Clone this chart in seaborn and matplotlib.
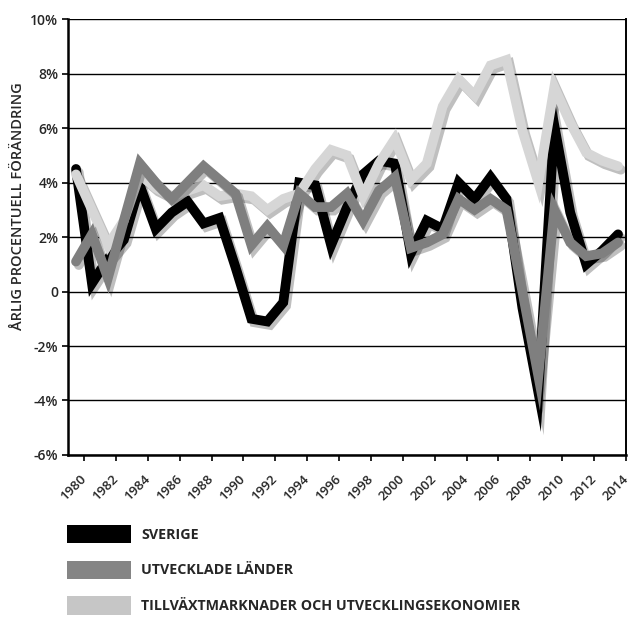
import matplotlib
matplotlib.use("Agg")
import matplotlib.pyplot as plt
import matplotlib.patheffects as pe
from matplotlib.patches import Patch
import pandas as pd
import seaborn as sns

years = list(range(1980, 2015))

sverige = [4.5, 0.3, 1.2, 1.9, 3.9, 2.3, 2.9, 3.3, 2.5, 2.7, 0.9, -1.0, -1.1, -0.4, 4.0,
           3.9, 1.7, 3.1, 4.3, 4.8, 4.7, 1.4, 2.6, 2.3, 4.0, 3.4, 4.2, 3.4, -0.6, -3.7,
           6.1, 2.9, 1.0, 1.5, 2.1]
utvecklade = [1.1, 2.1, 0.5, 2.6, 4.7, 4.0, 3.4, 4.0, 4.6, 4.1, 3.6, 1.7, 2.4, 1.7, 3.6,
              3.1, 3.1, 3.6, 2.6, 3.7, 4.2, 1.6, 1.8, 2.1, 3.4, 3.0, 3.4, 3.0, 0.0, -3.1,
              3.0, 1.8, 1.3, 1.4, 1.8]
tillvaxt = [4.3, 3.0, 1.7, 2.6, 4.3, 3.8, 3.5, 3.7, 3.9, 3.5, 3.6, 3.5, 3.0, 3.4, 3.6,
            4.5, 5.2, 5.0, 3.5, 4.7, 5.6, 4.1, 4.7, 6.8, 7.8, 7.2, 8.3, 8.5, 5.9, 4.0,
            7.5, 6.2, 5.1, 4.8, 4.6]

series_names = ["SVERIGE", "UTVECKLADE LÄNDER", "TILLVÄXTMARKNADER OCH UTVECKLINGSEKONOMIER"]
series_colors = ["#000000", "#7f7f7f", "#d6d6d6"]
legend_colors = ["#000000", "#858585", "#c6c6c6"]

yticks = [-6, -4, -2, 0, 2, 4, 6, 8, 10]
ytick_labels = ["-6%", "-4%", "-2%", "0", "2%", "4%", "6%", "8%", "10%"]
xtick_years = list(range(1980, 2015, 2))

df = pd.DataFrame({
    "year": years * 3,
    "value": sverige + utvecklade + tillvaxt,
    "serie": [series_names[0]] * len(years) + [series_names[1]] * len(years)
    + [series_names[2]] * len(years),
})

sns.set_style("white")
plt.rcParams["font.family"] = ["Open Sans", "DejaVu Sans"]

fig = plt.figure(figsize=(6.3, 6.17), dpi=100)
ax = fig.add_axes([0.108, 0.2626, 0.8857, 0.7064])

for y in yticks:
    ax.axhline(y, color="black", lw=1.0, zorder=0)

# draw order: black, light, gray on top
draw_order = [0, 2, 1]
for i in draw_order:
    sub = df[df["serie"] == series_names[i]]
    sns.lineplot(data=sub, x="year", y="value", ax=ax, color=series_colors[i],
                 lw=7.0, legend=False, zorder=2 + draw_order.index(i),
                 solid_joinstyle="miter")
for line in ax.lines[len(yticks):]:
    line.set_path_effects([
        pe.SimpleLineShadow(offset=(2.0, -2.5), shadow_color="black", alpha=0.25),
        pe.Normal(),
    ])

ax.set_xlim(1979.5, 2014.5)
ax.set_ylim(-6, 10)
ax.set_yticks(yticks)
ax.set_yticklabels(ytick_labels, fontsize=10, fontweight="semibold")
ax.set_xticks([y + 0.5 for y in xtick_years])
ax.set_xticklabels([str(y) for y in xtick_years], rotation=45, ha="right", va="center",
                   rotation_mode="anchor", fontsize=9.5, fontweight="semibold")
ax.tick_params(axis="both", direction="out", length=4, width=1.2, color="black",
               left=True, bottom=True)
ax.tick_params(axis="x", pad=12)
ax.tick_params(axis="y", pad=3)
ax.set_xlabel("")
ax.set_ylabel("ÅRLIG PROCENTUELL FÖRÄNDRING", fontsize=10.5, fontweight="semibold")
ax.yaxis.set_label_coords(-0.077, 0.57)

ax.spines["top"].set_visible(False)
for side in ["left", "bottom"]:
    ax.spines[side].set_linewidth(1.8)
    ax.spines[side].set_color("black")
ax.spines["right"].set_linewidth(1.4)
ax.spines["right"].set_color("black")

handles = [Patch(facecolor=c, edgecolor="none") for c in legend_colors]
fig.legend(handles, series_names, loc="upper left", bbox_to_anchor=(0.106, 0.149),
           frameon=False, handlelength=4.5, handleheight=1.6, labelspacing=1.2,
           handletextpad=0.7, prop={"size": 10.3, "weight": "bold"}, borderaxespad=0,
           borderpad=0)

fig.savefig("out.png", dpi=100)
